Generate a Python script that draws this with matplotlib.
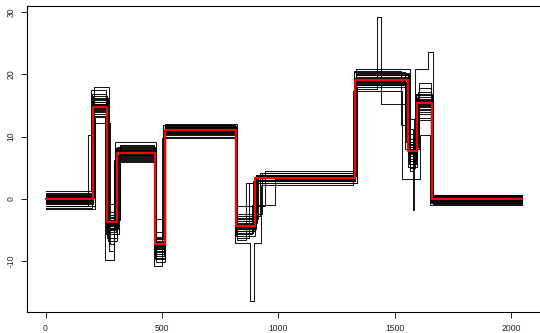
import numpy as np
import matplotlib
matplotlib.use("Agg")
import matplotlib.pyplot as plt

plt.rcParams['font.family'] = ['Liberation Sans', 'DejaVu Sans']

N_POINTS = 2048

# true piecewise constant signal (red)
true_breaks = [205, 266, 307, 471, 512, 819, 901, 1331, 1556, 1597, 1659]
true_levels = [0.0, 14.7, -3.7, 7.3, -7.3, 11.0, -4.4, 3.3, 19.1, 7.7, 15.4, 0.0]

# estimated step functions (black), one row per estimate
est_levels = [
    [0.2, 15.1, -4.2, 7.6, -7.9, 11.2, -4.1, 3.5, 19.3, 7.2, 15.8, 0.1],
    [-0.4, 14.3, -3.1, 7.0, -6.8, 10.8, -4.9, 3.1, 18.7, 8.3, 14.9, -0.2],
    [0.8, 16.2, -5.3, 8.1, -8.6, 11.6, -3.6, 3.8, 19.8, 6.4, 16.3, 0.4],
    [-1.1, 13.6, -2.6, 6.6, -6.1, 10.5, -5.4, 2.9, 18.2, 9.1, 14.2, -0.5],
    [0.5, 15.6, -4.7, 7.9, -7.5, 11.4, -3.2, 3.6, 20.1, 5.6, 16.9, 0.3],
    [-0.2, 14.9, -6.2, 7.3, -9.2, 11.0, -4.6, 3.3, 19.0, 7.9, 15.3, -0.1],
    [1.3, 17.4, -3.4, 8.7, -5.3, 11.9, -2.4, 4.2, 20.5, 10.4, 17.8, 0.6],
    [-1.7, 12.2, -7.3, 6.0, -10.1, 9.9, -6.3, 2.5, 17.6, 4.4, 12.6, -0.8],
    [0.0, 15.3, -3.8, 7.4, -7.2, 11.1, -4.3, 3.4, 19.2, 7.5, 15.6, 0.0],
    [-0.7, 14.0, -4.9, 6.9, -8.0, 10.7, -5.1, 3.0, 18.5, 8.8, 14.5, -0.3],
    [0.6, 16.0, -2.1, 8.0, -6.5, 11.5, -3.9, 3.7, 19.6, 6.9, 16.0, 0.2],
    [-0.3, 15.5, -5.7, 7.2, -8.9, 10.9, -5.7, 3.2, 18.9, 8.0, 13.6, -0.4],
    [0.9, 18.0, -0.8, 9.2, -3.2, 12.0, -1.2, 4.5, 20.8, 12.8, 20.8, 0.7],
    [-1.4, 13.1, -9.8, 5.9, -10.8, 9.8, -7.0, 2.3, 17.3, 3.2, 10.3, -1.0],
    [0.3, 14.6, -3.5, 7.7, -7.7, 11.3, -4.5, 3.5, 19.4, 7.4, 15.1, 0.1],
    [-0.9, 16.5, -4.4, 6.4, -6.9, 10.4, -3.3, 3.0, 18.3, 9.6, 17.2, -0.6],
    [0.1, 15.0, -6.8, 8.3, -8.3, 11.1, -4.8, 3.9, 19.9, 5.1, 15.7, 0.0],
    [-0.5, 14.4, -2.9, 7.1, -7.1, 10.6, -6.0, 2.8, 18.6, 8.6, 14.0, -0.2],
    [0.4, 15.8, -4.0, 7.8, -9.7, 11.7, -3.0, 3.6, 20.2, 6.1, 16.6, 0.4],
    [-0.1, 14.8, -5.0, 7.5, -7.4, 10.9, -4.2, 3.3, 19.1, 7.8, 15.4, -0.1],
    [0.7, 16.8, -3.0, 8.5, -6.2, 11.8, -2.8, 4.1, 20.3, 11.2, 18.6, 0.5],
    [-1.2, 13.3, -8.4, 6.2, -9.5, 10.2, -6.6, 2.6, 17.9, 4.9, 13.0, -0.7],
    [0.2, 15.2, -3.9, 7.3, -7.6, 11.0, -4.4, 3.4, 19.0, 7.6, 15.5, 0.0],
    [-0.6, 14.1, -4.6, 6.8, -8.1, 10.8, -5.2, 3.1, 18.8, 8.4, 14.7, -0.3],
]
est_breaks = [
    [206, 266, 307, 471, 512, 819, 902, 1331, 1556, 1597, 1659],
    [203, 264, 310, 470, 510, 818, 898, 1330, 1553, 1599, 1658],
    [208, 268, 304, 472, 513, 820, 905, 1332, 1560, 1595, 1661],
    [200, 262, 313, 469, 508, 817, 890, 1328, 1548, 1601, 1656],
    [210, 270, 300, 473, 514, 821, 912, 1333, 1562, 1592, 1662],
    [204, 265, 308, 471, 511, 819, 900, 1331, 1555, 1598, 1659],
    [197, 258, 320, 468, 505, 815, 930, 1325, 1560, 1606, 1654],
    [212, 276, 292, 476, 515, 822, 875, 1338, 1568, 1584, 1664],
    [205, 266, 306, 471, 512, 819, 901, 1331, 1557, 1597, 1659],
    [202, 263, 311, 470, 509, 818, 895, 1329, 1551, 1600, 1657],
    [207, 269, 303, 472, 513, 820, 908, 1332, 1559, 1594, 1660],
    [201, 261, 315, 469, 507, 816, 885, 1327, 1545, 1603, 1655],
    [209, 272, 298, 474, 514, 821, 945, 1335, 1565, 1588, 1663],
    [198, 256, 292, 467, 502, 813, 925, 1322, 1530, 1608, 1652],
    [206, 267, 306, 471, 512, 819, 903, 1331, 1556, 1596, 1659],
    [204, 264, 309, 470, 511, 818, 897, 1330, 1554, 1599, 1658],
    [208, 267, 305, 473, 513, 820, 906, 1332, 1558, 1596, 1660],
    [203, 265, 309, 470, 510, 818, 899, 1330, 1552, 1598, 1658],
    [207, 268, 302, 472, 512, 819, 910, 1333, 1561, 1593, 1661],
    [205, 266, 307, 471, 512, 819, 901, 1331, 1556, 1597, 1659],
    [199, 260, 318, 468, 506, 816, 920, 1326, 1543, 1604, 1656],
    [211, 274, 295, 475, 515, 821, 862, 1336, 1566, 1586, 1663],
    [205, 266, 307, 471, 512, 819, 901, 1331, 1556, 1597, 1659],
    [204, 265, 308, 471, 511, 819, 899, 1331, 1555, 1598, 1659],
]
# extra short pieces: (row, start, end, level)
est_extra = [
    (3, 183, 200, 10.2),
    (7, 1425, 1440, 29.2),
    (7, 1440, 1555, 15.2),
    (13, 880, 895, -16.4),
    (11, 885, 985, -1.0),
    (20, 1578, 1584, -1.8),
    (12, 1643, 1663, 23.6),
    (6, 1527, 1560, 11.9),
]

x_ticks = [0, 500, 1000, 1500, 2000]
y_ticks = [-10, 0, 10, 20, 30]


def step_xy(breaks, levels, extras=()):
    edges = sorted(set([1, N_POINTS] + list(breaks)
                       + [e for p in extras for e in p[:2]]))
    base_edges = np.array([1] + list(breaks))
    ys = []
    for x0 in edges[:-1]:
        v = levels[np.searchsorted(base_edges, x0, side="right") - 1]
        for a, b, lev in extras:
            if a <= x0 < b:
                v = lev
        ys.append(v)
    ys.append(ys[-1])
    return edges, ys


fig = plt.figure(figsize=(5.4, 3.33), dpi=100)
ax = fig.add_axes([26.7/540, 1 - 312.3/333, (541.3 - 26.7)/540, (312.3 - 5.7)/333])

for i, (brk, lev) in enumerate(zip(est_breaks, est_levels)):
    extras = [e[1:] for e in est_extra if e[0] == i]
    xs, ys = step_xy(brk, lev, extras)
    ax.step(xs, ys, where="post", color="black", lw=0.75, alpha=0.9)

xs, ys = step_xy(true_breaks, true_levels)
ax.step(xs, ys, where="post", color="red", lw=1.5)

ax.set_xlim(-81, 2130)
ax.set_ylim(-18.2, 31.0)
ax.set_xticks(x_ticks)
ax.set_yticks(y_ticks)
ax.set_xticklabels([str(t) for t in x_ticks])
ax.set_yticklabels([str(t) for t in y_ticks], rotation=90, va="center")
ax.tick_params(length=4.3, width=0.7, labelsize=6.2, pad=4, colors="#222222")
for sp in ax.spines.values():
    sp.set_linewidth(0.8)

fig.savefig("out.png", dpi=100)
